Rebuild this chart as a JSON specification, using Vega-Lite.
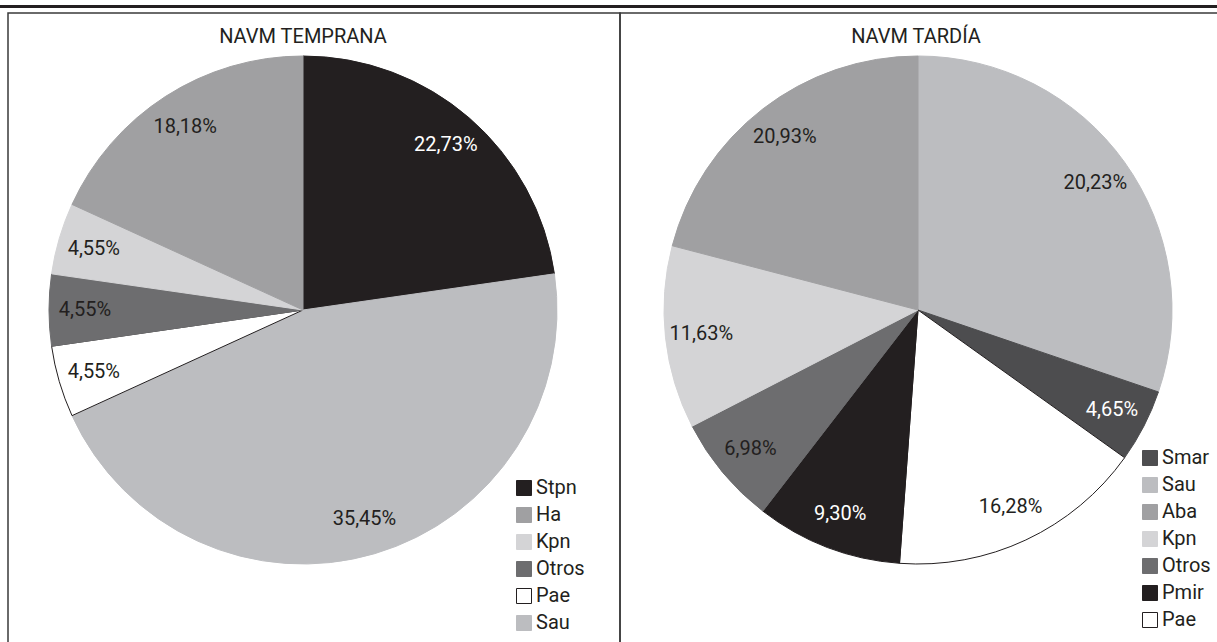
{
  "$schema": "https://vega.github.io/schema/vega-lite/v6.json",
  "padding": 0,
  "background": "white",
  "config": {
    "view": {"stroke": null},
    "font": "Roboto",
    "arc": {"strokeWidth": 1},
    "legend": {
      "orient": "none",
      "title": null,
      "symbolType": "square",
      "symbolSize": 225,
      "symbolStrokeWidth": 1,
      "labelFontSize": 20,
      "labelFont": "Roboto",
      "labelColor": "#231f20",
      "rowPadding": 7,
      "labelOffset": 2
    },
    "title": {"font": "Roboto", "fontSize": 20, "fontWeight": "normal", "color": "#231f20", "anchor": "middle"}
  },
  "spacing": 5,
  "bounds": "flush",
  "vconcat": [
    {
      "width": 1217,
      "height": 3,
      "view": {"fill": "#231f20", "stroke": null},
      "data": {"values": [{"t": ""}]},
      "mark": {"type": "text"},
      "encoding": {"text": {"field": "t"}}
    },
    {
      "spacing": 0,
      "bounds": "flush",
      "resolve": {"scale": {"color": "independent", "stroke": "independent", "theta": "independent"}, "legend": {"color": "independent", "stroke": "independent"}},
      "hconcat": [
        {
          "width": 8,
          "height": 660,
          "view": {"stroke": null},
          "data": {"values": [{"t": ""}]},
          "mark": {"type": "text"},
          "encoding": {"text": {"field": "t"}}
        },
        {
          "width": 612,
          "height": 660,
          "view": {"stroke": "#3a3a3a", "strokeWidth": 1.5},
          "title": {"text": "NAVM TEMPRANA", "offset": -34, "dx": -11},
          "data": {"values": [
            {"grupo": "Stpn", "valor": 22.73, "etiqueta": "22,73%", "orden": 1},
            {"grupo": "Sau", "valor": 45.45, "etiqueta": "35,45%", "orden": 2},
            {"grupo": "Pae", "valor": 4.55, "etiqueta": "4,55%", "orden": 3},
            {"grupo": "Otros", "valor": 4.55, "etiqueta": "4,55%", "orden": 4},
            {"grupo": "Kpn", "valor": 4.55, "etiqueta": "4,55%", "orden": 5},
            {"grupo": "Ha", "valor": 18.18, "etiqueta": "18,18%", "orden": 6}
          ]},
          "encoding": {
            "theta": {"field": "valor", "type": "quantitative", "stack": true},
            "order": {"field": "orden", "type": "quantitative"}
          },
          "layer": [
            {
              "mark": {"type": "arc", "outerRadius": 254, "xOffset": -11, "yOffset": -33},
              "encoding": {
                "color": {"field": "grupo", "type": "nominal",
                  "scale": {"domain": ["Stpn", "Ha", "Kpn", "Otros", "Pae", "Sau"], "range": ["#231f20", "#a0a0a2", "#d4d4d6", "#6d6d6f", "#ffffff", "#bcbdc0"]},
                  "legend": {"legendX": 506, "legendY": 465}},
                "stroke": {"field": "grupo", "type": "nominal",
                  "scale": {"domain": ["Stpn", "Ha", "Kpn", "Otros", "Pae", "Sau"], "range": ["#231f20", "#a0a0a2", "#d4d4d6", "#6d6d6f", "#231f20", "#bcbdc0"]},
                  "legend": {"legendX": 506, "legendY": 465}}
              }
            },
            {
              "mark": {"type": "text", "radius": 218, "fontSize": 20, "font": "Roboto", "xOffset": -11, "yOffset": -33},
              "encoding": {
                "text": {"field": "etiqueta"},
                "color": {"condition": {"test": "indexof(['Stpn','Pmir','Smar'], datum.grupo) >= 0", "value": "#ffffff"}, "value": "#231f20"}
              }
            }
          ]
        },
        {
          "width": 600,
          "height": 660,
          "view": {"stroke": "#3a3a3a", "strokeWidth": 1.5},
          "title": {"text": "NAVM TARDÍA", "offset": -34, "dx": -4},
          "data": {"values": [
            {"grupo": "Sau", "valor": 30.23, "etiqueta": "20,23%", "orden": 1},
            {"grupo": "Smar", "valor": 4.65, "etiqueta": "4,65%", "orden": 2},
            {"grupo": "Pae", "valor": 16.28, "etiqueta": "16,28%", "orden": 3},
            {"grupo": "Pmir", "valor": 9.30, "etiqueta": "9,30%", "orden": 4},
            {"grupo": "Otros", "valor": 6.98, "etiqueta": "6,98%", "orden": 5},
            {"grupo": "Kpn", "valor": 11.63, "etiqueta": "11,63%", "orden": 6},
            {"grupo": "Aba", "valor": 20.93, "etiqueta": "20,93%", "orden": 7}
          ]},
          "encoding": {
            "theta": {"field": "valor", "type": "quantitative", "stack": true},
            "order": {"field": "orden", "type": "quantitative"}
          },
          "layer": [
            {
              "mark": {"type": "arc", "outerRadius": 254, "xOffset": -2, "yOffset": -33},
              "encoding": {
                "color": {"field": "grupo", "type": "nominal",
                  "scale": {"domain": ["Smar", "Sau", "Aba", "Kpn", "Otros", "Pmir", "Pae"], "range": ["#4d4d4f", "#bcbdc0", "#a0a0a2", "#d4d4d6", "#6d6d6f", "#231f20", "#ffffff"]},
                  "legend": {"legendX": 520, "legendY": 435}},
                "stroke": {"field": "grupo", "type": "nominal",
                  "scale": {"domain": ["Smar", "Sau", "Aba", "Kpn", "Otros", "Pmir", "Pae"], "range": ["#4d4d4f", "#bcbdc0", "#a0a0a2", "#d4d4d6", "#6d6d6f", "#231f20", "#231f20"]},
                  "legend": {"legendX": 520, "legendY": 435}}
              }
            },
            {
              "mark": {"type": "text", "radius": 218, "fontSize": 20, "font": "Roboto", "xOffset": -2, "yOffset": -33},
              "encoding": {
                "text": {"field": "etiqueta"},
                "color": {"condition": {"test": "indexof(['Stpn','Pmir','Smar'], datum.grupo) >= 0", "value": "#ffffff"}, "value": "#231f20"}
              }
            }
          ]
        }
      ]
    }
  ]
}
